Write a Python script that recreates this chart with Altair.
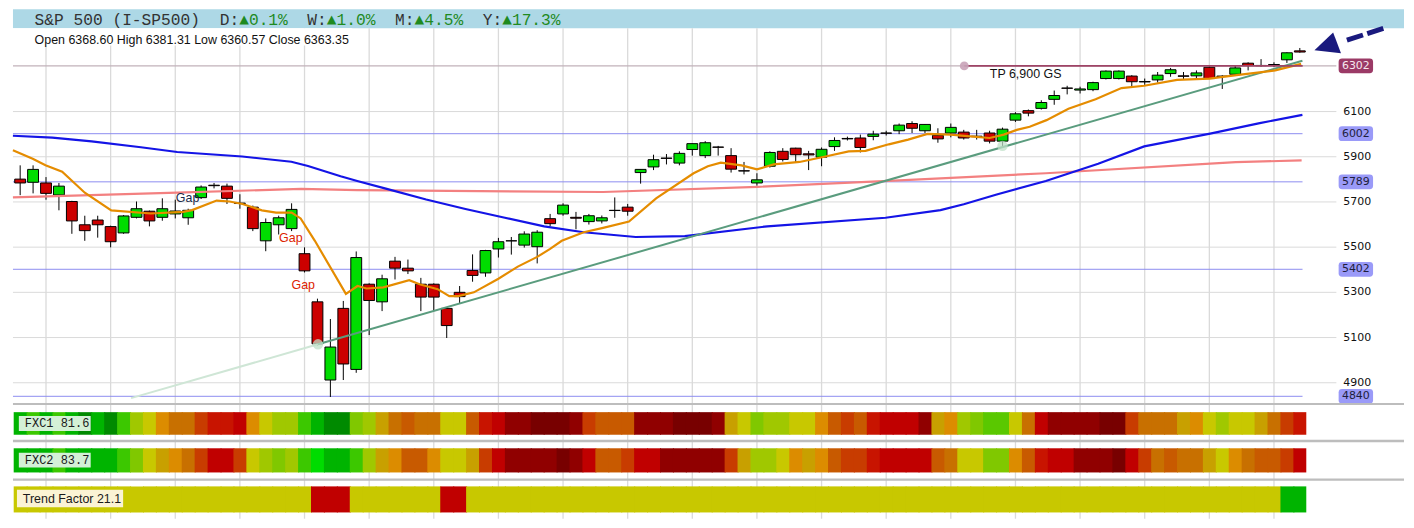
import altair as alt
import pandas as pd

# ---------------- data ----------------
opens = [5801, 5787, 5784, 5731, 5702, 5599, 5620, 5591, 5563, 5632,
         5659, 5632, 5647, 5630, 5719, 5774, 5770, 5695, 5677, 5528,
         5599, 5582, 5471, 5258, 4912, 5229, 4959, 5336, 5258, 5438,
         5407, 5336, 5336, 5229, 5300, 5397, 5386, 5492, 5528, 5509,
         5502, 5626, 5647, 5632, 5613, 5616, 5663, 5677, 5830, 5855,
         5894, 5872, 5932, 5905, 5943, 5905, 5838, 5784, 5858, 5924,
         5938, 5913, 5898, 5945, 5981, 5983, 5990, 6005, 6015, 6047,
         6015, 5995, 6005, 6009, 5991, 6005, 5969, 6062, 6104, 6114,
         6154, 6204, 6195, 6197, 6246, 6246, 6257, 6233, 6240, 6268,
         6258, 6258, 6296, 6257, 6265, 6314, 6304, 6308, 6329, 6368.60]
highs = [5862, 5862, 5810, 5784, 5705, 5639, 5639, 5595, 5642, 5702,
         5662, 5716, 5710, 5670, 5773, 5784, 5781, 5734, 5684, 5627,
         5639, 5694, 5499, 5272, 5182, 5262, 5481, 5340, 5378, 5457,
         5445, 5364, 5340, 5232, 5328, 5468, 5488, 5541, 5545, 5570,
         5575, 5647, 5694, 5656, 5647, 5640, 5720, 5691, 5844, 5909,
         5912, 5924, 5958, 5969, 5948, 5938, 5877, 5827, 5924, 5938,
         5940, 5926, 5941, 5986, 5989, 5998, 6015, 6015, 6047, 6057,
         6043, 6026, 6047, 6019, 6019, 6015, 6029, 6097, 6109, 6150,
         6193, 6214, 6210, 6232, 6282, 6282, 6261, 6246, 6275, 6293,
         6275, 6282, 6299, 6261, 6304, 6318, 6332, 6318, 6362, 6381.31]
lows = [5730, 5738, 5710, 5663, 5559, 5528, 5542, 5499, 5559, 5627,
        5592, 5617, 5627, 5599, 5713, 5760, 5691, 5670, 5571, 5482,
        5556, 5571, 5388, 5065, 4837, 4912, 4944, 5111, 5217, 5357,
        5381, 5217, 5217, 5098, 5250, 5347, 5369, 5454, 5467, 5498,
        5428, 5592, 5639, 5579, 5600, 5605, 5630, 5639, 5781, 5841,
        5866, 5862, 5905, 5894, 5905, 5830, 5822, 5772, 5852, 5879,
        5877, 5841, 5858, 5926, 5972, 5919, 5973, 5994, 6000, 6005,
        6005, 5962, 5986, 5976, 5976, 5959, 5948, 6054, 6079, 6109,
        6130, 6176, 6180, 6190, 6242, 6242, 6208, 6218, 6228, 6254,
        6240, 6240, 6246, 6200, 6261, 6282, 6299, 6297, 6315, 6360.57]
closes = [5784, 5844, 5738, 5770, 5616, 5573, 5599, 5524, 5638, 5670,
          5616, 5670, 5660, 5663, 5766, 5772, 5716, 5693, 5582, 5609,
          5630, 5667, 5395, 5072, 5058, 4983, 5454, 5264, 5360, 5407,
          5395, 5279, 5279, 5153, 5281, 5375, 5485, 5524, 5528, 5558,
          5566, 5604, 5686, 5628, 5639, 5630, 5662, 5659, 5844, 5887,
          5893, 5915, 5958, 5962, 5942, 5845, 5837, 5798, 5919, 5888,
          5909, 5908, 5933, 5972, 5979, 5941, 6000, 6004, 6040, 6026,
          6043, 5979, 6030, 5983, 5989, 5969, 6022, 6090, 6093, 6140,
          6171, 6203, 6200, 6228, 6279, 6279, 6232, 6231, 6261, 6285,
          6256, 6271, 6246, 6255, 6293, 6304, 6303, 6306, 6360, 6363.35]

# short moving average (orange)
orange_idx = [-0.56, 0.97, 1.96, 3.25, 5.0, 7.05, 10.1, 12.6, 13.3, 15.2, 16.2, 17.2,
              18.7, 19.8, 21.0, 21.7, 22.8, 25.2, 26.1, 26.8, 28.1, 30.1, 30.9, 32.3,
              33.2, 33.9, 35.1, 37.0, 38.5, 40.0, 41.0, 41.9, 43.6, 45.1, 47.1, 49.2,
              52.1, 53.2, 54.2, 55.8, 57.0, 58.3, 60.3, 62.3, 64.1, 65.4, 67.2, 68.7,
              70.2, 72.0, 73.5, 75.0, 76.1, 77.1, 78.1, 79.4, 81.1, 83.2, 85.2, 86.96,
              89.5, 92.0, 94.1, 97.1, 99.1]
orange_val = [5929, 5891, 5862, 5834, 5741, 5663, 5649, 5656, 5664, 5706, 5702, 5691,
              5663, 5653, 5653, 5627, 5528, 5293, 5328, 5317, 5322, 5354, 5336, 5314,
              5283, 5283, 5300, 5360, 5414, 5457, 5492, 5528, 5566, 5585, 5613, 5716,
              5827, 5858, 5874, 5862, 5844, 5866, 5877, 5901, 5924, 5926, 5955, 5976,
              6001, 5998, 5990, 5983, 5998, 6019, 6033, 6062, 6112, 6154, 6204, 6214,
              6240, 6246, 6261, 6282, 6311]
# long moving average (blue)
blue_idx = [-0.56, 2.49, 5.53, 9.34, 12.15, 17.18, 20.98, 22.27, 24.79, 26.08, 28.36,
            31.41, 34.45, 37.5, 40.54, 43.6, 47.62, 51.42, 57.8, 66.95, 71.2, 73.0,
            75.55, 79.35, 83.4, 86.96, 92.06, 95.9, 99.2]
blue_val = [5993, 5985, 5968, 5942, 5921, 5901, 5878, 5859, 5814, 5793, 5758,
            5711, 5669, 5630, 5592, 5566, 5545, 5549, 5592, 5630, 5664, 5690,
            5733, 5793, 5869, 5946, 6002, 6049, 6085]
# 200-day average (salmon)
salmon_idx = [-0.56, 12.15, 21.74, 26.08, 45.1, 57.05, 67.2, 79.35, 94.05, 99.14]
salmon_val = [5720, 5741, 5758, 5752, 5744, 5767, 5793, 5827, 5876, 5884]
# trend line: faint start, first anchor, end ; anchors
trend_idx = [8.58, 23.04, 99.2]
trend_val = [4832, 5070, 6325]
anchor_idx = [23.04, 76.0]
anchor_val = [5070, 5948]

level_prices = [6002, 5789, 5402, 4840]
tp_price = 6302
tp_idx = [73.04, 99.22]
tp_text = "TP 6,900 GS"
tick_prices = [4900, 5100, 5300, 5500, 5700, 5900, 6100]
week_idx = list(range(2, 100, 5))

gap_text = ["Gap", "Gap", "Gap"]
gap_idx = [12.95, 20.94, 21.90]
gap_val = [5716, 5541, 5334]

arrow_idx = [105.46, 102.34]
arrow_val = [6468, 6410]
arrowhead_idx = [101.30]
arrowhead_val = [6393]

# heat strips (colour class per day)
fxc1 = ["G1", "G2", "G1", "G2", "G1", "G0", "G1", "G0", "G2", "G4",
        "Y", "O1", "O2", "O2", "R1", "R2", "R2", "R3", "O1", "Y",
        "G4", "G4", "G2", "G1", "G0", "G0", "G3", "G4", "Y2", "O2",
        "O3", "O2", "O2", "Y", "Y", "O3", "R2", "R3", "D1", "D1",
        "D2", "D2", "D2", "D1", "R1", "O3", "O3", "O3", "D1", "D1",
        "D1", "D2", "D2", "D2", "D1", "Y2", "Y", "G3", "G4", "G4",
        "Y", "Y", "O1", "O3", "R1", "O3", "R2", "R3", "R3", "R3",
        "D1", "Y2", "O1", "G4", "G3", "G2b", "G2b", "Y", "O2", "R3",
        "D1", "D1", "D1", "D1", "D2", "D2", "R1", "O2", "O2", "O2",
        "Y2", "O1", "Y", "G4", "Y", "Y", "Y2", "O2", "R1", "R2"]
fxc2 = ["G1", "G1", "G1", "G2", "G1", "G1", "G1", "G1", "G2", "G3",
        "Y", "Y2", "O1", "O2", "R1", "R3", "R3", "R1", "Y", "G4",
        "G3", "G4", "G2", "GB", "G1", "G1", "G2", "G4", "Y2", "O1",
        "O3", "O3", "O1", "Y", "Y", "Y2", "R1", "R3", "D1", "D1",
        "D1", "D1", "D2", "D1", "R3", "O3", "O3", "R1", "R3", "R3",
        "D1", "D1", "D1", "D1", "D1", "R1", "Y2", "G4", "G4", "Y",
        "O1", "Y2", "O1", "O3", "R1", "R1", "R2", "R3", "R3", "R3",
        "R3", "O3", "O2", "Y", "Y", "G3", "G3", "O1", "O3", "R2",
        "R3", "R3", "D1", "D1", "D1", "D2", "R3", "R1", "O2", "O3",
        "O2", "O2", "Y2", "Y", "O1", "O2", "O3", "O3", "R1", "R3"]
trend_factor = ["Y"] * 100
for k in (23, 24, 25, 33, 34):
    trend_factor[k] = "R3"
for k in (98, 99):
    trend_factor[k] = "G1"

header_title = "S&P 500 (I-SP500)"
period_keys = ["D:", "W:", "M:", "Y:"]
period_changes = ["\u25b20.1%", "\u25b21.0%", "\u25b24.5%", "\u25b217.3%"]
strip_labels = ["FXC1 81.6", "FXC2 83.7", "Trend Factor 21.1"]

# ---------------- style / layout ----------------
W = 1398
H_HEAD = 19
H_MAIN = 377
H_STRIP = 116
xs = alt.Scale(domain=[-0.5556, 107.06], nice=False, zero=False)
ys = alt.Scale(domain=[4809.0, 6468.9], nice=False, zero=False)

code_names = ["G0", "G1", "G2", "G2b", "GB", "G3", "G4", "Y", "Y2", "O1", "O2",
              "O3", "R1", "R2", "R3", "D1", "D2"]
code_colors = ["#008a00", "#00b400", "#3cc800", "#5ac800", "#00dc00", "#80c800",
               "#a0c800", "#c8c800", "#c8a000", "#dc8c00", "#c87000", "#c85a00",
               "#c83c00", "#c81400", "#c00000", "#900000", "#780000"]
cscale = alt.Scale(domain=code_names, range=code_colors)

MONO = "Liberation Mono"
SANS = "Liberation Sans"


def X(f):
    return alt.X(f, scale=xs, axis=None)


def Y(f):
    return alt.Y(f, scale=ys, axis=None)


one = pd.DataFrame({"k": [0]})

# ---------------- header ----------------
hx0, cw, hy = 21.75, 9.79, 15.5
head_layers = [alt.Chart(one).mark_rect(color="#add8e6").encode(
    x=alt.value(0), x2=alt.value(W), y=alt.value(0), y2=alt.value(H_HEAD))]
head_layers.append(alt.Chart(pd.DataFrame({"t": [header_title]})).mark_text(
    font=MONO, fontSize=16.3, align="left", baseline="alphabetic", color="#333333"
).encode(text="t:N", x=alt.value(hx0), y=alt.value(hy)))
for n, (key, chg) in enumerate(zip(period_keys, period_changes)):
    c0 = 19 + 9 * n
    head_layers.append(alt.Chart(pd.DataFrame({"t": [key]})).mark_text(
        font=MONO, fontSize=16.3, align="left", baseline="alphabetic", color="#333333"
    ).encode(text="t:N", x=alt.value(hx0 + c0 * cw), y=alt.value(hy)))
    head_layers.append(alt.Chart(pd.DataFrame({"t": [chg]})).mark_text(
        font=MONO, fontSize=16.3, align="left", baseline="alphabetic", color="#1f8a1f"
    ).encode(text="t:N", x=alt.value(hx0 + (c0 + 2) * cw), y=alt.value(hy)))
header = alt.layer(*head_layers).properties(width=W, height=H_HEAD)

# ---------------- main price panel ----------------
cand = pd.DataFrame({"i": range(len(opens)), "o": opens, "h": highs,
                     "l": lows, "c": closes})
cand["dir"] = ["up" if c > o else "down" for o, c in zip(opens, closes)]

vgrid = alt.Chart(pd.DataFrame({"g": week_idx})).mark_rule(
    color="#dadada", strokeWidth=1.3).encode(
    x=X("g:Q"), y=alt.value(0), y2=alt.value(H_MAIN))
hgrid = alt.Chart(pd.DataFrame({"p": tick_prices})).mark_rule(
    color="#dadada", strokeWidth=1).encode(
    y=Y("p:Q"), x=alt.value(0), x2=alt.value(1330))
tpgray = alt.Chart(pd.DataFrame({"p": [tp_price]})).mark_rule(
    color="#c2b2ba", strokeWidth=1.2).encode(
    y=Y("p:Q"), x=alt.value(0), x2=alt.value(1330))
ohlc_box = alt.Chart(one).mark_rect(color="white").encode(
    x=alt.value(0), x2=alt.value(341), y=alt.value(0), y2=alt.value(17.5))
levels = alt.Chart(pd.DataFrame({"p": level_prices})).mark_rule(
    color="#8c8cf0", strokeWidth=1).encode(
    y=Y("p:Q"), x=alt.value(0), x2=alt.value(1296))

wicks = alt.Chart(cand).mark_rule(color="black", strokeWidth=1).encode(
    x=X("i:Q"), y=Y("l:Q"), y2="h:Q")
bodies = alt.Chart(cand).transform_calculate(
    a="datum.i - 0.42", b="datum.i + 0.42").mark_rect(
    stroke="black", strokeWidth=1).encode(
    x=X("a:Q"), x2="b:Q", y=Y("o:Q"), y2="c:Q",
    fill=alt.Fill("dir:N", scale=alt.Scale(domain=["up", "down"],
                                           range=["#00dd00", "#cc0000"]), legend=None))


def line(idx, val, color, width=2, opacity=1.0):
    return alt.Chart(pd.DataFrame({"i": idx, "v": val})).mark_line(
        color=color, strokeWidth=width, opacity=opacity).encode(
        x=X("i:Q"), y=Y("v:Q"), order="i:Q")


salmon = line(salmon_idx, salmon_val, "#f38080", 2.2)
blue = line(blue_idx, blue_val, "#1414e6", 2.2)
trend_faint = line(trend_idx[:2], trend_val[:2], "#cfe6d6", 2)
trend_solid = line(trend_idx[1:], trend_val[1:], "#5a9c7e", 2)
anchors = alt.Chart(pd.DataFrame({"i": anchor_idx, "v": anchor_val})).mark_point(
    filled=True, color="#bfe0c8", opacity=0.75, size=110).encode(x=X("i:Q"), y=Y("v:Q"))
orange = line(orange_idx, orange_val, "#e58c00", 2.2)
tpline = alt.Chart(pd.DataFrame({"a": [tp_idx[0]], "b": [tp_idx[1]], "p": [tp_price]})).mark_rule(
    color="#9e4466", strokeWidth=1.6).encode(x=X("a:Q"), x2="b:Q", y=Y("p:Q"))
tpdot = alt.Chart(pd.DataFrame({"i": [tp_idx[0]], "p": [tp_price]})).mark_point(
    filled=True, color="#c9a3b8", opacity=0.9, size=80).encode(x=X("i:Q"), y=Y("p:Q"))
tptext = alt.Chart(pd.DataFrame({"i": [75.02], "p": [6267], "t": [tp_text]})).mark_text(
    font=SANS, fontSize=12.5, align="left", baseline="middle", color="#111111").encode(
    x=X("i:Q"), y=Y("p:Q"), text="t:N")

ohlc_str = "Open {:.2f} High {:.2f} Low {:.2f} Close {:.2f}".format(
    opens[-1], highs[-1], lows[-1], closes[-1])
ohlc = alt.Chart(pd.DataFrame({"t": [ohlc_str]})).mark_text(
    font=SANS, fontSize=12.5, align="left", baseline="alphabetic", color="#111111").encode(
    text="t:N", x=alt.value(21.75), y=alt.value(15.5))

gap_df = pd.DataFrame({"i": gap_idx, "v": gap_val, "t": gap_text})
gap_up = alt.Chart(gap_df.iloc[:1]).mark_text(
    font=SANS, fontSize=12.5, align="center", baseline="middle", color="#1c2a4a").encode(
    x=X("i:Q"), y=Y("v:Q"), text="t:N")
gap_dn = alt.Chart(gap_df.iloc[1:]).mark_text(
    font=SANS, fontSize=12.5, align="center", baseline="middle", color="#dd2200").encode(
    x=X("i:Q"), y=Y("v:Q"), text="t:N")

ticklab = alt.Chart(pd.DataFrame({"p": tick_prices, "t": [str(p) for p in tick_prices]})).mark_text(
    font="DejaVu Sans", fontSize=11, align="left", baseline="middle", color="#111111").encode(
    x=alt.value(1337), y=Y("p:Q"), text="t:N")

badge_path = ("M-0.8,-0.43 H0.8 Q1,-0.43 1,-0.23 V0.23 Q1,0.43 0.8,0.43 "
              "H-0.8 Q-1,0.43 -1,0.23 V-0.23 Q-1,-0.43 -0.8,-0.43 Z")


def badge(prices, fill, txt):
    df = pd.DataFrame({"p": prices, "t": [str(p) for p in prices]})
    box = alt.Chart(df).mark_point(shape=badge_path, filled=True, size=1197, opacity=1,
                                   strokeWidth=0, color=fill).encode(
        x=alt.value(1349.6), y=Y("p:Q"))
    lab = alt.Chart(df).mark_text(font="DejaVu Sans", fontSize=11, align="center",
                                  baseline="middle", color=txt).encode(
        x=alt.value(1349.6), y=Y("p:Q"), text="t:N")
    return [box, lab]


badges = badge([tp_price], "#9b3a66", "#f6e8ef") + badge(level_prices, "#9a9af8", "#1e1e3c")

arrow_shaft = alt.Chart(pd.DataFrame({"i": arrow_idx, "v": arrow_val})).mark_line(
    color="#1a1a7e", strokeWidth=5, strokeDash=[17, 4.5], strokeCap="butt").encode(
    x=X("i:Q"), y=Y("v:Q"), order=alt.Order("i:Q", sort="descending"))
arrow_head = alt.Chart(pd.DataFrame({"i": arrowhead_idx, "v": arrowhead_val})).mark_point(
    shape="M-1.013,0.329 L0.24,-0.867 L0.767,0.537 Z", filled=True, size=900,
    color="#1a1a7e", opacity=1).encode(x=X("i:Q"), y=Y("v:Q"))

main = alt.layer(vgrid, hgrid, tpgray, ohlc_box, levels, wicks, bodies, salmon, blue,
                 trend_faint, trend_solid, anchors, orange, tpline, tpdot, tptext, ohlc,
                 gap_up, gap_dn, ticklab, *badges, arrow_shaft, arrow_head
                 ).properties(width=W, height=H_MAIN)

# ---------------- heat strips ----------------


def strip(codes, y0, y1):
    df = pd.DataFrame({"i": range(len(codes)), "c": codes})
    return alt.Chart(df).transform_calculate(
        a="datum.i - 0.5", b="datum.i + 0.58").transform_calculate(
        b="datum.i == %d ? datum.i + 0.5 : datum.b" % (len(codes) - 1)).mark_rect(
        strokeWidth=0).encode(
        x=X("a:Q"), x2="b:Q", y=alt.value(y0), y2=alt.value(y1),
        color=alt.Color("c:N", scale=cscale, legend=None), order="i:Q")


sgrid = alt.Chart(pd.DataFrame({"g": week_idx})).mark_rule(
    color="#dadada", strokeWidth=1.3).encode(
    x=X("g:Q"), y=alt.value(0), y2=alt.value(H_STRIP))
seps = [alt.Chart(one).mark_rule(color="#bdbdbd", strokeWidth=sw).encode(
    x=alt.value(0), x2=alt.value(W), y=alt.value(yy)) for yy, sw in [(0.8, 2), (37.9, 2.5), (76.7, 2.5)]]


def label_box(x0, x1, y0, y1, col):
    return alt.Chart(one).mark_rect(color=col).encode(
        x=alt.value(x0), x2=alt.value(x1), y=alt.value(y0), y2=alt.value(y1))


def label_text(t, x, y, font, size):
    return alt.Chart(pd.DataFrame({"t": [t]})).mark_text(
        font=font, fontSize=size, align="left", baseline="alphabetic", color="#1a1a1a").encode(
        text="t:N", x=alt.value(x), y=alt.value(y))


strips = alt.layer(
    sgrid, *seps,
    strip(fxc1, 8.9, 31.6), strip(fxc2, 45.2, 69.5), strip(trend_factor, 83.5, 109.7),
    label_box(5.9, 78.1, 12.7, 27.8, "#d4f0d6"),
    label_text(strip_labels[0], 11.9, 24.3, MONO, 12),
    label_box(5.9, 78.1, 49.6, 64.6, "#d4f0d6"),
    label_text(strip_labels[1], 11.9, 61.2, MONO, 12),
    label_box(4.0, 110.7, 86.9, 104.4, "#fbf3d4"),
    label_text(strip_labels[2], 9.9, 100.2, SANS, 12.5),
).properties(width=W, height=H_STRIP)

chart = alt.vconcat(header, main, strips, spacing=0, bounds="flush",
                    padding=0, background="white").configure_view(stroke=None)

chart.save("out.html", embed_options={"renderer": "svg", "actions": False})
